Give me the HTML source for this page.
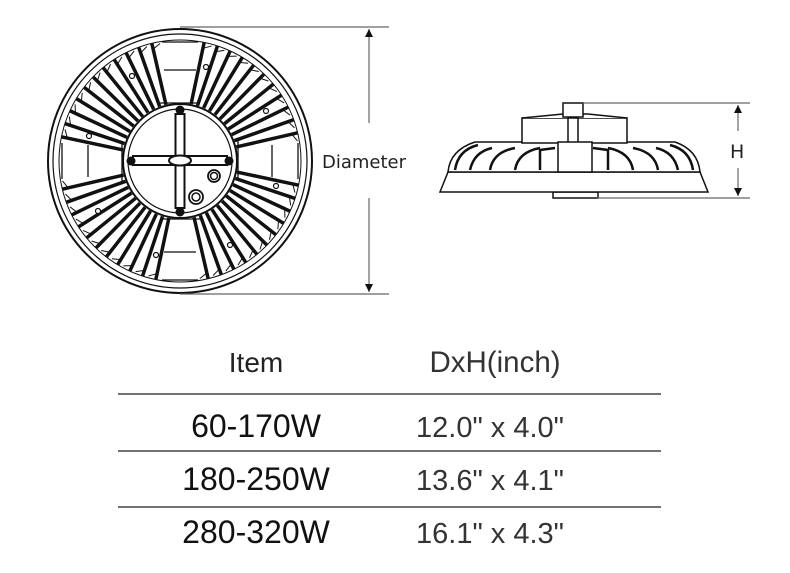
<!DOCTYPE html>
<html><head><meta charset="utf-8"><style>
html,body{margin:0;padding:0;background:#fff;}
svg{display:block;}
</style></head><body>
<svg width="790" height="573" viewBox="0 0 790 573" xmlns="http://www.w3.org/2000/svg" xmlns:xlink="http://www.w3.org/1999/xlink">
<defs>
<marker id="ar" viewBox="0 0 10 10" refX="10" refY="5" markerWidth="8" markerHeight="14" markerUnits="userSpaceOnUse" orient="auto"><path d="M0,0 L10,5 L0,10 z" fill="#111"/></marker>
<g id="b">
<line x1="238" y1="160" x2="301" y2="160" stroke="#111" stroke-width="3.5"/>
<line x1="295" y1="160" x2="299" y2="168" stroke="#111" stroke-width="1"/>
</g>
</defs>
<g fill="none" stroke="#111">
<circle cx="180" cy="161" r="132" stroke-width="2"/>
<circle cx="180" cy="161" r="127" stroke-width="1.2"/>
<circle cx="180" cy="161" r="121" stroke-width="1"/>
</g>
<g>
<use xlink:href="#b" href="#b" transform="rotate(12 180 161)"/><use xlink:href="#b" href="#b" transform="rotate(18.5 180 161)"/><use xlink:href="#b" href="#b" transform="rotate(25 180 161)"/><use xlink:href="#b" href="#b" transform="rotate(31.5 180 161)"/><use xlink:href="#b" href="#b" transform="rotate(38 180 161)"/><use xlink:href="#b" href="#b" transform="rotate(44.5 180 161)"/><use xlink:href="#b" href="#b" transform="rotate(51 180 161)"/><use xlink:href="#b" href="#b" transform="rotate(57.5 180 161)"/><use xlink:href="#b" href="#b" transform="rotate(64 180 161)"/><use xlink:href="#b" href="#b" transform="rotate(70.5 180 161)"/><use xlink:href="#b" href="#b" transform="rotate(77 180 161)"/>
<use xlink:href="#b" href="#b" transform="rotate(102 180 161)"/><use xlink:href="#b" href="#b" transform="rotate(108.5 180 161)"/><use xlink:href="#b" href="#b" transform="rotate(115 180 161)"/><use xlink:href="#b" href="#b" transform="rotate(121.5 180 161)"/><use xlink:href="#b" href="#b" transform="rotate(128 180 161)"/><use xlink:href="#b" href="#b" transform="rotate(134.5 180 161)"/><use xlink:href="#b" href="#b" transform="rotate(141 180 161)"/><use xlink:href="#b" href="#b" transform="rotate(147.5 180 161)"/><use xlink:href="#b" href="#b" transform="rotate(154 180 161)"/><use xlink:href="#b" href="#b" transform="rotate(160.5 180 161)"/><use xlink:href="#b" href="#b" transform="rotate(167 180 161)"/>
<use xlink:href="#b" href="#b" transform="rotate(192 180 161)"/><use xlink:href="#b" href="#b" transform="rotate(198.5 180 161)"/><use xlink:href="#b" href="#b" transform="rotate(205 180 161)"/><use xlink:href="#b" href="#b" transform="rotate(211.5 180 161)"/><use xlink:href="#b" href="#b" transform="rotate(218 180 161)"/><use xlink:href="#b" href="#b" transform="rotate(224.5 180 161)"/><use xlink:href="#b" href="#b" transform="rotate(231 180 161)"/><use xlink:href="#b" href="#b" transform="rotate(237.5 180 161)"/><use xlink:href="#b" href="#b" transform="rotate(244 180 161)"/><use xlink:href="#b" href="#b" transform="rotate(250.5 180 161)"/><use xlink:href="#b" href="#b" transform="rotate(257 180 161)"/>
<use xlink:href="#b" href="#b" transform="rotate(282 180 161)"/><use xlink:href="#b" href="#b" transform="rotate(288.5 180 161)"/><use xlink:href="#b" href="#b" transform="rotate(295 180 161)"/><use xlink:href="#b" href="#b" transform="rotate(301.5 180 161)"/><use xlink:href="#b" href="#b" transform="rotate(308 180 161)"/><use xlink:href="#b" href="#b" transform="rotate(314.5 180 161)"/><use xlink:href="#b" href="#b" transform="rotate(321 180 161)"/><use xlink:href="#b" href="#b" transform="rotate(327.5 180 161)"/><use xlink:href="#b" href="#b" transform="rotate(334 180 161)"/><use xlink:href="#b" href="#b" transform="rotate(340.5 180 161)"/><use xlink:href="#b" href="#b" transform="rotate(347 180 161)"/>
</g>
<g fill="none" stroke="#111">
<circle cx="180" cy="161" r="57" stroke-width="2" fill="#fff"/>
<circle cx="180" cy="161" r="52" stroke-width="1.2"/>
</g>
<g stroke="#111" stroke-width="1.3" fill="none">
<line x1="122" y1="141" x2="122" y2="181"/><line x1="238" y1="141" x2="238" y2="181"/>
<line x1="62" y1="143" x2="62" y2="179"/><line x1="298" y1="143" x2="298" y2="179"/>
<line x1="88" y1="145" x2="88" y2="177"/><line x1="272" y1="145" x2="272" y2="177"/>
<line x1="160" y1="103" x2="200" y2="103"/><line x1="160" y1="219" x2="200" y2="219"/>
<line x1="162" y1="42" x2="198" y2="42"/><line x1="162" y1="280" x2="198" y2="280"/>
<line x1="164" y1="70" x2="196" y2="70"/><line x1="164" y1="252" x2="196" y2="252"/>
<rect x="133" y="156" width="94" height="9" stroke-width="2"/>
<rect x="175.5" y="114" width="9" height="94" stroke-width="2"/>
<ellipse cx="180" cy="160.5" rx="11" ry="5" fill="#fff" stroke-width="2"/>
<circle cx="196" cy="197" r="7" stroke-width="1.8"/><circle cx="196" cy="197" r="4" stroke-width="1.5"/>
<circle cx="214" cy="176" r="6" stroke-width="1.8"/><circle cx="214" cy="176" r="3.5" stroke-width="1.5"/>
</g>
<g fill="#111">
<circle cx="180" cy="110" r="4.5"/><circle cx="180" cy="212" r="4.5"/><circle cx="131" cy="161" r="4.5"/><circle cx="229" cy="161" r="4.5"/>
</g>
<g fill="#fff" stroke="#111" stroke-width="1.2">
<circle cx="132" cy="76" r="2.5"/><circle cx="206" cy="67" r="2.5"/><circle cx="266" cy="111" r="2.5"/><circle cx="89" cy="136" r="2.5"/>
<circle cx="276" cy="186" r="2.5"/><circle cx="98" cy="211" r="2.5"/><circle cx="156" cy="255" r="2.5"/><circle cx="230" cy="245" r="2.5"/>
</g>
<g stroke="#666" stroke-width="1.2">
<line x1="180" y1="27" x2="389" y2="27"/><line x1="180" y1="294" x2="389" y2="294"/>
<line x1="369" y1="123" x2="369" y2="29" marker-end="url(#ar)"/>
<line x1="369" y1="198" x2="369" y2="292" marker-end="url(#ar)"/>
</g>
<text x="322" y="168" font-family="'DejaVu Sans','Liberation Sans',sans-serif" font-size="18" fill="#222">Diameter</text>
<g stroke="#111" stroke-width="1.5" fill="#fff">
<rect x="553" y="192" width="45" height="6"/>
<path d="M440,192 L708,192 L700,172 L448,172 Z"/>
<path d="M448,172 Q450,150 475,142 L675,142 Q698,150 700,172 Z"/>
<rect x="522" y="118" width="105" height="25"/>
<path d="M522,118 L563,114 L588,114 L627,118"/>
<rect x="563" y="103" width="20" height="14"/>
<rect x="568" y="118" width="10" height="34"/>
<rect x="558" y="142" width="34" height="30"/>
</g>
<g stroke="#111" stroke-width="2.5" fill="none">
<path d="M455,170 Q458,150 478,145"/><path d="M470,170 Q474,152 492,148"/><path d="M490,170 Q493,152 515,148"/><path d="M515,170 Q518,152 540,148"/><path d="M540,170 L540,150 L555,148"/>
<path d="M693,170 Q690,150 670,145"/><path d="M678,170 Q674,152 656,148"/><path d="M658,170 Q655,152 633,148"/><path d="M633,170 Q630,152 608,148"/><path d="M608,170 L608,150 L593,148"/>
</g>
<g stroke="#666" stroke-width="1.2">
<line x1="583" y1="103" x2="750" y2="103"/><line x1="597" y1="198" x2="750" y2="198"/>
<line x1="738" y1="131" x2="738" y2="105" marker-end="url(#ar)"/>
<line x1="738" y1="168" x2="738" y2="196" marker-end="url(#ar)"/>
</g>
<text x="730" y="158" font-family="'DejaVu Sans','Liberation Sans',sans-serif" font-size="19" fill="#222">H</text>
<g font-family="'Liberation Sans',sans-serif" text-anchor="middle">
<text x="256" y="372" font-size="28" fill="#222">Item</text>
<text x="495" y="372" font-size="29.5" fill="#333">DxH(inch)</text>
<text x="256" y="437" font-size="32" fill="#111">60-170W</text>
<text x="490" y="437" font-size="29" fill="#333">12.0" x 4.0"</text>
<text x="256" y="490" font-size="32" fill="#111">180-250W</text>
<text x="490" y="490" font-size="29" fill="#333">13.6" x 4.1"</text>
<text x="256" y="543" font-size="32" fill="#111">280-320W</text>
<text x="490" y="543" font-size="29" fill="#333">16.1" x 4.3"</text>
</g>
<g stroke="#444" stroke-width="1.5">
<line x1="118" y1="394" x2="661" y2="394"/><line x1="118" y1="451" x2="661" y2="451"/><line x1="118" y1="507" x2="661" y2="507"/>
</g>
</svg>
</body></html>
